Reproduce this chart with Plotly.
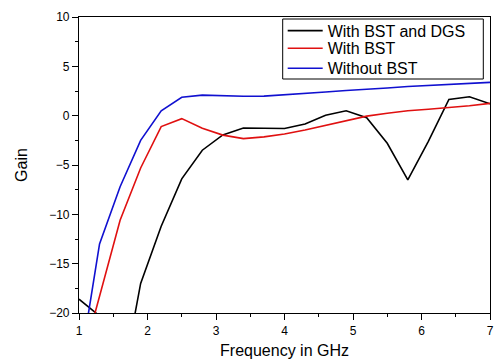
import plotly.graph_objects as go

freq = [1.0, 1.3, 1.6, 1.9, 2.2, 2.5, 2.8, 3.1, 3.4, 3.7, 4.0, 4.3, 4.6, 4.9, 5.2, 5.5, 5.8, 6.1, 6.4, 6.7, 7.0]

gain_bst_dgs = [-18.6, -20.3, -28.2, -17.0, -11.2, -6.4, -3.5, -1.95, -1.25, -1.27, -1.3, -0.85, 0.05, 0.5, -0.2, -2.8, -6.5, -2.6, 1.65, 1.92, 1.2]
gain_bst = [-26.0, -18.2, -10.6, -5.3, -1.1, -0.3, -1.27, -1.97, -2.33, -2.15, -1.85, -1.45, -1.0, -0.5, -0.05, 0.25, 0.5, 0.65, 0.8, 1.0, 1.25]
gain_no_bst = [-26.0, -13.0, -7.2, -2.5, 0.5, 1.86, 2.08, 2.0, 1.97, 1.98, 2.1, 2.25, 2.4, 2.55, 2.65, 2.8, 2.95, 3.05, 3.15, 3.27, 3.37]

series = [
    ("With BST and DGS", gain_bst_dgs, "#000000"),
    ("With BST", gain_bst, "#e01010"),
    ("Without BST", gain_no_bst, "#1010d0"),
]
legend_ids = ["legend", "legend2", "legend3"]
legend_rows = [0.9537, 0.8943, 0.8267]

fig = go.Figure()
for (name, vals, color), lid in zip(series, legend_ids):
    fig.add_trace(go.Scatter(x=freq, y=vals, mode="lines", name=name, legend=lid,
                             line=dict(color=color, width=1.6)))

axis_common = dict(
    showgrid=False, zeroline=False, automargin=False,
    showline=True, linecolor="#000000", linewidth=1.2, mirror=True,
    ticks="outside", ticklen=6, tickcolor="#000000", tickwidth=1.2,
    ticklabeloverflow="allow",
    tickfont=dict(family="Liberation Sans, Arial", size=12, color="#000000"),
)

legend_font = dict(family="Liberation Sans, Arial", size=16, color="#000000")
legends = {}
for lid, yrow in zip(legend_ids, legend_rows):
    legends[lid] = dict(x=0.4956, y=yrow, xanchor="left", yanchor="middle",
                        bgcolor="rgba(0,0,0,0)", borderwidth=0,
                        font=legend_font, itemwidth=35)

fig.update_layout(
    width=494, height=360,
    margin=dict(l=79, r=4, t=17, b=47),
    paper_bgcolor="white", plot_bgcolor="white",
    font=dict(family="Liberation Sans, Arial", color="#000000"),
    xaxis=dict(range=[1, 7], dtick=1, tick0=1,
               minor=dict(dtick=0.5, ticklen=3, tickcolor="#000000", ticks="outside"),
               title=dict(text="Frequency in GHz", font=dict(size=16), standoff=8),
               **axis_common),
    yaxis=dict(range=[-20, 10], dtick=5, tick0=0,
               minor=dict(dtick=2.5, ticklen=3, tickcolor="#000000", ticks="outside"),
               title=dict(text="Gain", font=dict(size=16), standoff=17),
               **axis_common),
    shapes=[dict(type="rect", xref="paper", yref="paper",
                 x0=0.4956, x1=0.9837, y0=0.7905, y1=0.9932,
                 line=dict(color="#000000", width=1), fillcolor="white", layer="above")],
    showlegend=True,
    **legends,
)

# remove the default 8px page margin so the 494x360 figure fills the window exactly
fig.write_html("out.html", config={"displayModeBar": False},
               post_script="document.body.style.margin='0';")
